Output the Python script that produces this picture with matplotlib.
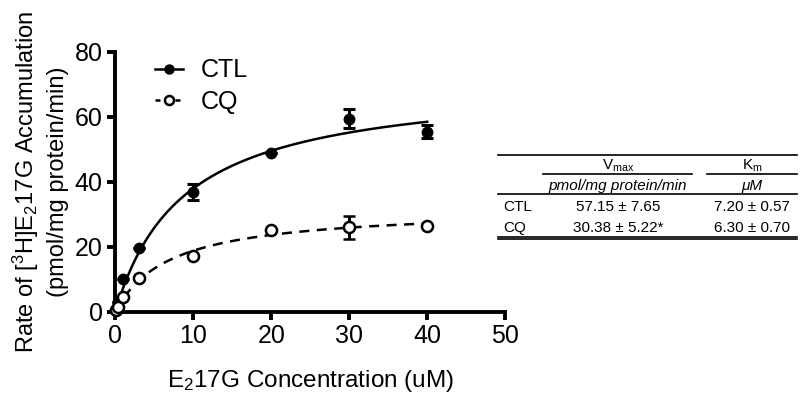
import numpy as np
import matplotlib
matplotlib.use("Agg")
import matplotlib.pyplot as plt
from matplotlib.lines import Line2D

plt.rcParams['font.family'] = ['Liberation Sans', 'DejaVu Sans']
plt.rcParams['mathtext.fontset'] = 'custom'
plt.rcParams['mathtext.rm'] = 'Liberation Sans'
plt.rcParams['mathtext.it'] = 'Liberation Sans:italic'

# concentrations (uM)
conc = [0.1, 0.3, 1, 3, 10, 20, 30, 40]
ctl_rate = [1.0, 3.0, 10.0, 19.7, 37.0, 49.0, 59.5, 55.5]
ctl_err = [0, 0, 0, 0, 2.5, 0, 3.0, 2.0]
cq_rate = [0.5, 1.5, 4.5, 10.5, 17.3, 25.3, 26.0, 26.5]
cq_err = [0, 0, 0, 0, 0, 0, 3.5, 0]

# fitted Michaelis-Menten curves (as drawn)
ctl_fit = (71.4, 8.8)   # Vmax, Km
cq_fit = (32.0, 7.0)

# kinetics table
table_rows = ["CTL", "CQ"]
vmax_vals = ["57.15 \u00b1 7.65", "30.38 \u00b1 5.22*"]
km_vals = ["7.20 \u00b1 0.57", "6.30 \u00b1 0.70"]

fig = plt.figure(figsize=(8, 4.03), dpi=100)
ax = fig.add_axes([0.144, 0.226, 0.4875, 0.645])

xs = np.linspace(0, 40, 300)
V, K = ctl_fit
ax.plot(xs, V * xs / (K + xs), color='black', lw=1.8, clip_on=False)
V, K = cq_fit
ax.plot(xs, V * xs / (K + xs), color='black', lw=1.8, ls=(0, (4, 3)), clip_on=False)

ax.errorbar(conc, ctl_rate, yerr=ctl_err, fmt='o', color='black', ms=7.5,
            capsize=4, elinewidth=2.2, capthick=2.2, clip_on=False, zorder=3)
ax.errorbar(conc, cq_rate, yerr=cq_err, fmt='o', color='black', mfc='white',
            mew=1.8, ms=8, capsize=4, elinewidth=2.2, capthick=2.2, clip_on=False, zorder=3)

ax.set_xlim(0, 50)
ax.set_ylim(0, 80)
ax.set_xticks([0, 10, 20, 30, 40, 50])
ax.set_yticks([0, 20, 40, 60, 80])
for s in ['top', 'right']:
    ax.spines[s].set_visible(False)
for s in ['left', 'bottom']:
    ax.spines[s].set_linewidth(2.8)
ax.tick_params(width=2.8, length=6, labelsize=18, pad=3)

ax.set_xlabel("E$_2$17G Concentration (uM)", fontsize=17.5, labelpad=14)
ax.set_ylabel("Rate of [$^3$H]E$_2$17G Accumulation\n(pmol/mg protein/min)",
              fontsize=17, labelpad=4, linespacing=1.35)

handles = [Line2D([], [], color='black', marker='o', ms=6.5, lw=1.8),
           Line2D([], [], color='black', marker='o', ms=6.5, mfc='white', mew=1.8,
                  lw=1.8, ls=(0, (2, 2)))]
ax.legend(handles, ["CTL", "CQ"], loc='upper left', bbox_to_anchor=(0.103, 0.975),
          frameon=False, fontsize=18, handlelength=1.1, labelspacing=0.3,
          handletextpad=0.7, borderpad=0, borderaxespad=0)


# table drawn in figure pixel coordinates
def fx(px):
    return px / 800


def fy(py):
    return 1 - py / 403


def hline(x0, x1, y, lw=1.2):
    fig.add_artist(Line2D([fx(x0), fx(x1)], [fy(y), fy(y)], color='black', lw=lw))


hline(498, 797, 155)
hline(543, 692, 174)
hline(707, 797, 174)
hline(498, 797, 194)
hline(498, 797, 237)
hline(498, 797, 239)

fs = 11
fig.text(fx(618), fy(166), "V$_{\\rm max}$", ha='center', va='center', fontsize=fs)
fig.text(fx(752), fy(166), "K$_{\\rm m}$", ha='center', va='center', fontsize=fs)
fig.text(fx(618), fy(186), "pmol/mg protein/min", ha='center', va='center',
         fontsize=fs, style='italic')
fig.text(fx(752), fy(186), "\u03bcM", ha='center', va='center', fontsize=fs, style='italic')
for i, name in enumerate(table_rows):
    y = 207 + i * 21
    fig.text(fx(503), fy(y), name, ha='left', va='center', fontsize=fs)
    fig.text(fx(618), fy(y), vmax_vals[i], ha='center', va='center', fontsize=fs)
    fig.text(fx(752), fy(y), km_vals[i], ha='center', va='center', fontsize=fs)

fig.savefig("out.png", dpi=100)
